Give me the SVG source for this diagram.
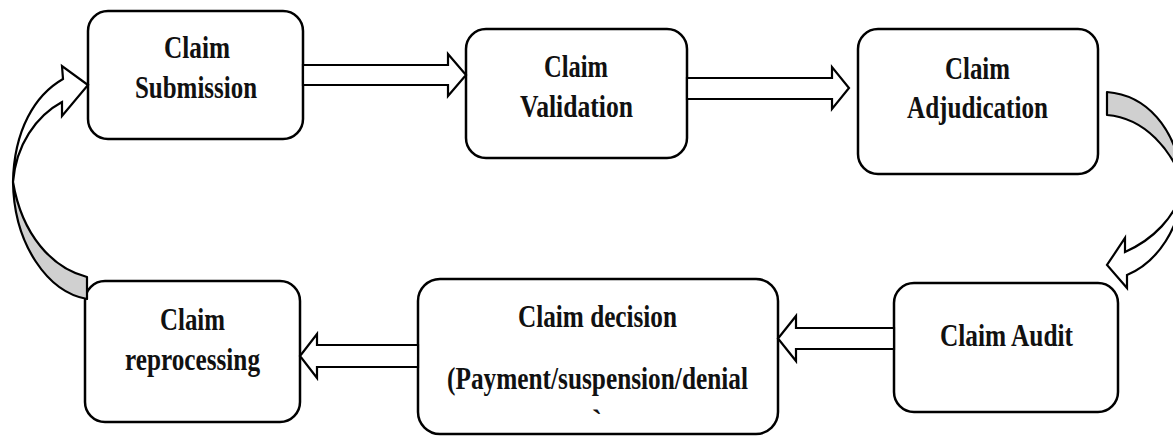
<svg xmlns="http://www.w3.org/2000/svg" width="1173" height="436" viewBox="0 0 1173 436">
  <style>
    .box { fill: #ffffff; stroke: #000000; stroke-width: 2.5; }
    .lbl { font-family: "Liberation Serif", "Times New Roman", serif; font-weight: bold; font-size: 31px; fill: #111111; }
    .blk { fill: #ffffff; stroke: #000000; stroke-width: 2.2; stroke-linejoin: miter; }
    .back { fill: #d0d0d0; stroke: #000000; stroke-width: 2.2; stroke-linejoin: round; }
  </style>
  <rect width="1173" height="436" fill="#ffffff"/>

  <!-- process steps -->
  <g id="claim-submission">
    <rect class="box" x="88" y="11" width="215" height="128" rx="20"/>
    <text class="lbl" x="164" y="58" textLength="66" lengthAdjust="spacingAndGlyphs">Claim</text>
    <text class="lbl" x="135" y="98" textLength="122" lengthAdjust="spacingAndGlyphs">Submission</text>
  </g>
  <g id="claim-validation">
    <rect class="box" x="466" y="29" width="221" height="129" rx="20"/>
    <text class="lbl" x="544" y="77" textLength="64" lengthAdjust="spacingAndGlyphs">Claim</text>
    <text class="lbl" x="520" y="117" textLength="113" lengthAdjust="spacingAndGlyphs">Validation</text>
  </g>
  <g id="claim-adjudication">
    <rect class="box" x="858" y="29" width="240" height="145" rx="20"/>
    <text class="lbl" x="945" y="79" textLength="65" lengthAdjust="spacingAndGlyphs">Claim</text>
    <text class="lbl" x="907" y="118" textLength="141" lengthAdjust="spacingAndGlyphs">Adjudication</text>
  </g>
  <g id="claim-audit">
    <rect class="box" x="894" y="283" width="224" height="129" rx="20"/>
    <text class="lbl" x="940" y="346" textLength="133" lengthAdjust="spacingAndGlyphs">Claim Audit</text>
  </g>
  <g id="claim-decision">
    <rect class="box" x="418" y="279" width="360" height="155" rx="22"/>
    <text class="lbl" x="518" y="327" textLength="159" lengthAdjust="spacingAndGlyphs">Claim decision</text>
    <text class="lbl" x="447" y="389" textLength="301" lengthAdjust="spacingAndGlyphs">(Payment/suspension/denial</text>
    <text class="lbl" x="597" y="431" text-anchor="middle">`</text>
  </g>
  <g id="claim-reprocessing">
    <rect class="box" x="85" y="281" width="215" height="141" rx="20"/>
    <text class="lbl" x="160" y="330" textLength="65" lengthAdjust="spacingAndGlyphs">Claim</text>
    <text class="lbl" x="125" y="370" textLength="135" lengthAdjust="spacingAndGlyphs">reprocessing</text>
  </g>

  <!-- connectors -->
  <g id="connectors">
    <!-- straight block arrows -->
    <path class="blk" d="M303,65 L448,65 L448,54 L466,75 L448,96 L448,85 L303,85 Z"/>
    <path class="blk" d="M687,78 L832,78 L832,67 L849,88 L832,109 L832,99 L687,99 Z"/>
    <path class="blk" d="M894,328 L796,328 L796,316 L778,338.5 L796,361 L796,349 L894,349 Z"/>
    <path class="blk" d="M418,345 L317,345 L317,334 L300,356 L317,378 L317,367 L418,367 Z"/>

    <!-- curved arrow: adjudication to audit -->
    <path class="back" d="M1107,92 C1145,95 1176,125 1184,185 C1172,150 1145,118 1107,115 Z"/>
    <path class="blk" d="M1125,252 C1152,240 1176,218 1184,185 C1180,228 1158,262 1127,275 L1127,288 L1107,265 L1125,238 Z"/>

    <!-- curved arrow: reprocessing back to submission -->
    <path class="back" d="M13,182 C14,245 48,292 87,299 L87,277 C52,268 22,235 13,182 Z"/>
    <path class="blk" d="M63,79 C35,95 14,130 13,182 C16,145 36,116 62,102 L62,116 L88,85 L62,66 Z"/>
  </g>
</svg>
